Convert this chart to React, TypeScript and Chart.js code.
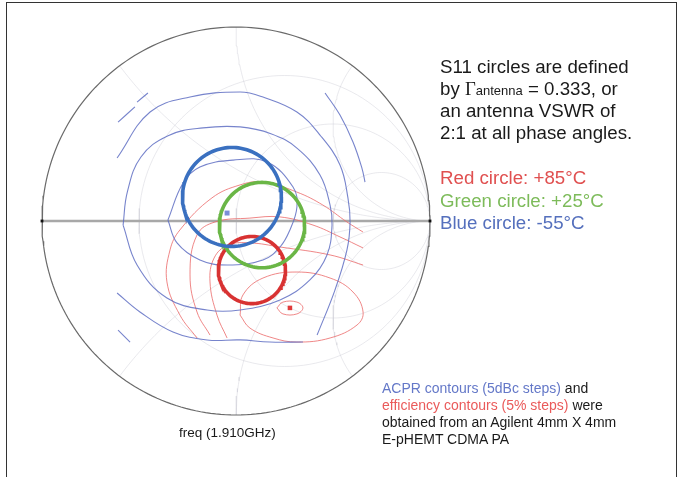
import React, { useEffect, useRef } from "react";
import { Chart, registerables } from "chart.js";

Chart.register(...registerables);

type P = [number, number];

// Smith chart grid (normalized impedance)
const resistanceValues = [1 / 3, 1, 3];
const reactanceValues = [0.5, 1, 2];

// S11 circles in the reflection-coefficient plane: -55°C, +25°C, +85°C
const circleNames = ["Blue circle: -55°C", "Green circle: +25°C", "Red circle: +85°C"];
const circleCenterRe = [-0.021, 0.134, 0.082];
const circleCenterIm = [0.124, -0.021, -0.253];
const circleRadius = [0.255, 0.22, 0.173];

// optimum markers (Re, Im)
const acprOptimum: P = [-0.046, 0.041];
const efficiencyOptimum: P = [0.278, -0.448];

// ACPR contours, 5 dBc steps (Re, Im of Γ)
const acprContours: P[][] = [
  [[-0.351, 0.005], [-0.273, 0.196], [-0.186, 0.278], [-0.015, 0.314], [0.16, 0.304], [0.294, 0.175], [0.314, 0.072], [0.278, -0.046], [0.227, -0.134], [0.139, -0.201], [-0.046, -0.227], [-0.186, -0.201], [-0.304, -0.113], [-0.351, 0.005]],
  [[-0.582, -0.021], [-0.56, 0.15], [-0.49, 0.33], [-0.35, 0.44], [-0.17, 0.48], [0.021, 0.485], [0.18, 0.45], [0.314, 0.376], [0.433, 0.237], [0.485, 0.082], [0.495, -0.021], [0.469, -0.175], [0.381, -0.304], [0.227, -0.407], [0.021, -0.459], [-0.149, -0.459], [-0.356, -0.397], [-0.51, -0.227], [-0.582, -0.021]],
  [[-0.613, 0.325], [-0.443, 0.562], [-0.237, 0.639], [0.021, 0.665], [0.139, 0.639], [0.314, 0.562], [0.433, 0.443], [0.536, 0.289], [0.577, 0.119], [0.588, -0.005], [0.572, -0.149], [0.51, -0.356], [0.418, -0.588]],
  [[-0.613, -0.371], [-0.495, -0.469], [-0.325, -0.572], [-0.149, -0.613], [0.021, -0.613], [0.175, -0.624], [0.345, -0.624]],
  [[-0.608, 0.51], [-0.521, 0.588]],
  [[-0.51, 0.613], [-0.454, 0.66]],
  [[0.459, 0.66], [0.536, 0.546], [0.603, 0.407], [0.649, 0.273], [0.665, 0.201]],
  [[-0.608, -0.562], [-0.546, -0.624]],
];

// efficiency contours, 5% steps (Re, Im of Γ)
const efficiencyContours: P[][] = [
  [[0.211, -0.448], [0.242, -0.418], [0.314, -0.418], [0.345, -0.448], [0.314, -0.479], [0.242, -0.479], [0.211, -0.448]],
  [[0.021, -0.485], [0.036, -0.381], [0.139, -0.294], [0.314, -0.263], [0.485, -0.294], [0.603, -0.366], [0.655, -0.469], [0.624, -0.536], [0.485, -0.603], [0.314, -0.624], [0.191, -0.603], [0.072, -0.552], [0.021, -0.485]],
  [[-0.046, -0.603], [-0.098, -0.485], [-0.134, -0.314], [-0.113, -0.191], [-0.041, -0.124], [0.072, -0.113], [0.227, -0.134], [0.485, -0.175], [0.655, -0.227]],
  [[-0.134, -0.588], [-0.201, -0.469], [-0.237, -0.278], [-0.201, -0.072], [-0.108, -0.005], [0.072, 0.015], [0.227, 0.021], [0.397, -0.021], [0.536, -0.082], [0.655, -0.139]],
  [[-0.201, -0.603], [-0.289, -0.485], [-0.356, -0.314], [-0.34, -0.149], [-0.289, -0.046], [-0.124, 0.119], [0.021, 0.186], [0.139, 0.201], [0.314, 0.149], [0.448, 0.082], [0.572, -0.005], [0.655, -0.057]],
];

const circlePoints = (cx: number, cy: number, r: number, n = 144): P[] => {
  const pts: P[] = [];
  for (let i = 0; i <= n; i++) {
    const t = (i / n) * Math.PI * 2;
    pts.push([cx + r * Math.cos(t), cy + r * Math.sin(t)]);
  }
  return pts;
};

// constant-reactance arc from the open-circuit point to the rim
const reactanceArc = (x: number, n = 80): P[] => {
  const cy = 1 / x;
  const R = 1 / x;
  const eu = (x * x - 1) / (x * x + 1);
  const ev = (2 * x) / (x * x + 1);
  const a1 = Math.atan2(-cy, 0);
  let d = Math.atan2(ev - cy, eu - 1) - a1;
  while (d > Math.PI) d -= 2 * Math.PI;
  while (d <= -Math.PI) d += 2 * Math.PI;
  const pts: P[] = [];
  for (let i = 0; i <= n; i++) {
    const a = a1 + (d * i) / n;
    pts.push([1 + R * Math.cos(a), cy + R * Math.sin(a)]);
  }
  return pts;
};

const FONT = '"Liberation Sans", Arial, Helvetica, sans-serif';

function Line(props: { x: number; base: number; size: number; color?: string; children: React.ReactNode }) {
  const { x, base, size, color = "#1a1a1a", children } = props;
  return (
    <div
      style={{
        position: "absolute",
        left: x,
        top: base - 0.8465 * size,
        fontSize: size,
        lineHeight: `${size}px`,
        fontFamily: FONT,
        color,
        whiteSpace: "nowrap",
      }}
    >
      {children}
    </div>
  );
}

export default function App() {
  const ref = useRef<HTMLCanvasElement>(null);

  useEffect(() => {
    if (!ref.current) return;
    const toXY = (pts: P[]) => pts.map(([x, y]) => ({ x, y }));
    const curve = (pts: P[], color: string, width: number, order: number, tension = 0) => ({
      data: toXY(pts),
      showLine: true,
      borderColor: color,
      backgroundColor: color,
      borderWidth: width,
      pointRadius: 0,
      tension,
      fill: false,
      order,
      clip: false as const,
    });

    const gridColor = "rgba(200,200,210,0.4)";
    const datasets: any[] = [];
    resistanceValues.forEach((r) => datasets.push(curve(circlePoints(r / (1 + r), 0, 1 / (1 + r)), gridColor, 1, 20)));
    reactanceValues.forEach((x) => {
      const arc = reactanceArc(x);
      datasets.push(curve(arc, gridColor, 1, 20));
      datasets.push(curve(arc.map(([u, v]) => [u, -v] as P), gridColor, 1, 20));
    });
    datasets.push(curve(circlePoints(0, 0, 1, 240), "#6a6a6a", 1.2, 15));
    datasets.push(curve([[-1, 0], [1, 0]], "#a8a8a8", 2.5, 15));

    acprContours.forEach((c) => datasets.push(curve(c, "rgba(95,110,195,0.85)", 1.1, 10, 0.4)));
    efficiencyContours.forEach((c) => datasets.push(curve(c, "rgba(235,105,105,0.8)", 1, 10, 0.4)));

    const circleColors = ["#3a70c0", "#6ab646", "#d83232"];
    circleNames.forEach((_, i) =>
      datasets.push(curve(circlePoints(circleCenterRe[i], circleCenterIm[i], circleRadius[i]), circleColors[i], 3.6, 3))
    );

    const marker = (p: P, color: string, r: number) => ({
      data: toXY([p]),
      showLine: false,
      pointStyle: "rect",
      pointRadius: r,
      backgroundColor: color,
      borderWidth: 0,
      order: 1,
      clip: false as const,
    });
    datasets.push(marker(acprOptimum, "#7a8ed8", 3.5));
    datasets.push(marker(efficiencyOptimum, "#e03a3a", 3.2));
    datasets.push({ ...marker([-1, 0], "#111", 2), data: toXY([[-1, 0], [1, 0]]) });

    const chart = new Chart(ref.current, {
      type: "scatter",
      data: { datasets },
      options: {
        responsive: false,
        maintainAspectRatio: false,
        animation: false,
        layout: { padding: { left: 42, right: 256, top: 27, bottom: 62 } },
        scales: {
          x: { type: "linear", min: -1, max: 1, display: false },
          y: { type: "linear", min: -1, max: 1, display: false },
        },
        plugins: { legend: { display: false }, tooltip: { enabled: false } },
        events: [],
      },
    });
    return () => chart.destroy();
  }, []);

  return (
    <div style={{ position: "absolute", left: 0, top: 0, width: 686, height: 477, overflow: "hidden", background: "#fff" }}>
      <canvas ref={ref} width={686} height={477} style={{ position: "absolute", left: 0, top: 0, width: 686, height: 477 }} />
      <div
        style={{
          position: "absolute",
          left: 6,
          top: 2,
          width: 671,
          height: 490,
          border: "1.5px solid #333",
          boxSizing: "border-box",
        }}
      />
      <Line x={440} base={74} size={18.7}>S11 circles are defined</Line>
      <Line x={440} base={96} size={18.7}>
        by <span style={{ fontFamily: '"Liberation Serif", "Times New Roman", serif' }}>Γ</span>
        <span style={{ fontSize: 13, lineHeight: "1" }}>antenna</span> = 0.333, or
      </Line>
      <Line x={440} base={118} size={18.7}>an antenna VSWR of</Line>
      <Line x={440} base={140} size={18.7}>2:1 at all phase angles.</Line>
      <Line x={440} base={185} size={18.7} color="#e05050">{circleNames[2]}</Line>
      <Line x={440} base={207.5} size={18.7} color="#7dbb5a">{circleNames[1]}</Line>
      <Line x={440} base={230} size={18.7} color="#5570bd">{circleNames[0]}</Line>

      <Line x={382} base={393} size={14}>
        <span style={{ color: "#6478c8" }}>ACPR contours (5dBc steps)</span> and
      </Line>
      <Line x={382} base={410} size={14}>
        <span style={{ color: "#ea5a5a" }}>efficiency contours (5% steps)</span> were
      </Line>
      <Line x={382} base={427} size={14}>obtained from an Agilent 4mm X 4mm</Line>
      <Line x={382} base={444} size={14}>E-pHEMT CDMA PA</Line>

      <Line x={179} base={437} size={13.5}>freq (1.910GHz)</Line>
    </div>
  );
}
